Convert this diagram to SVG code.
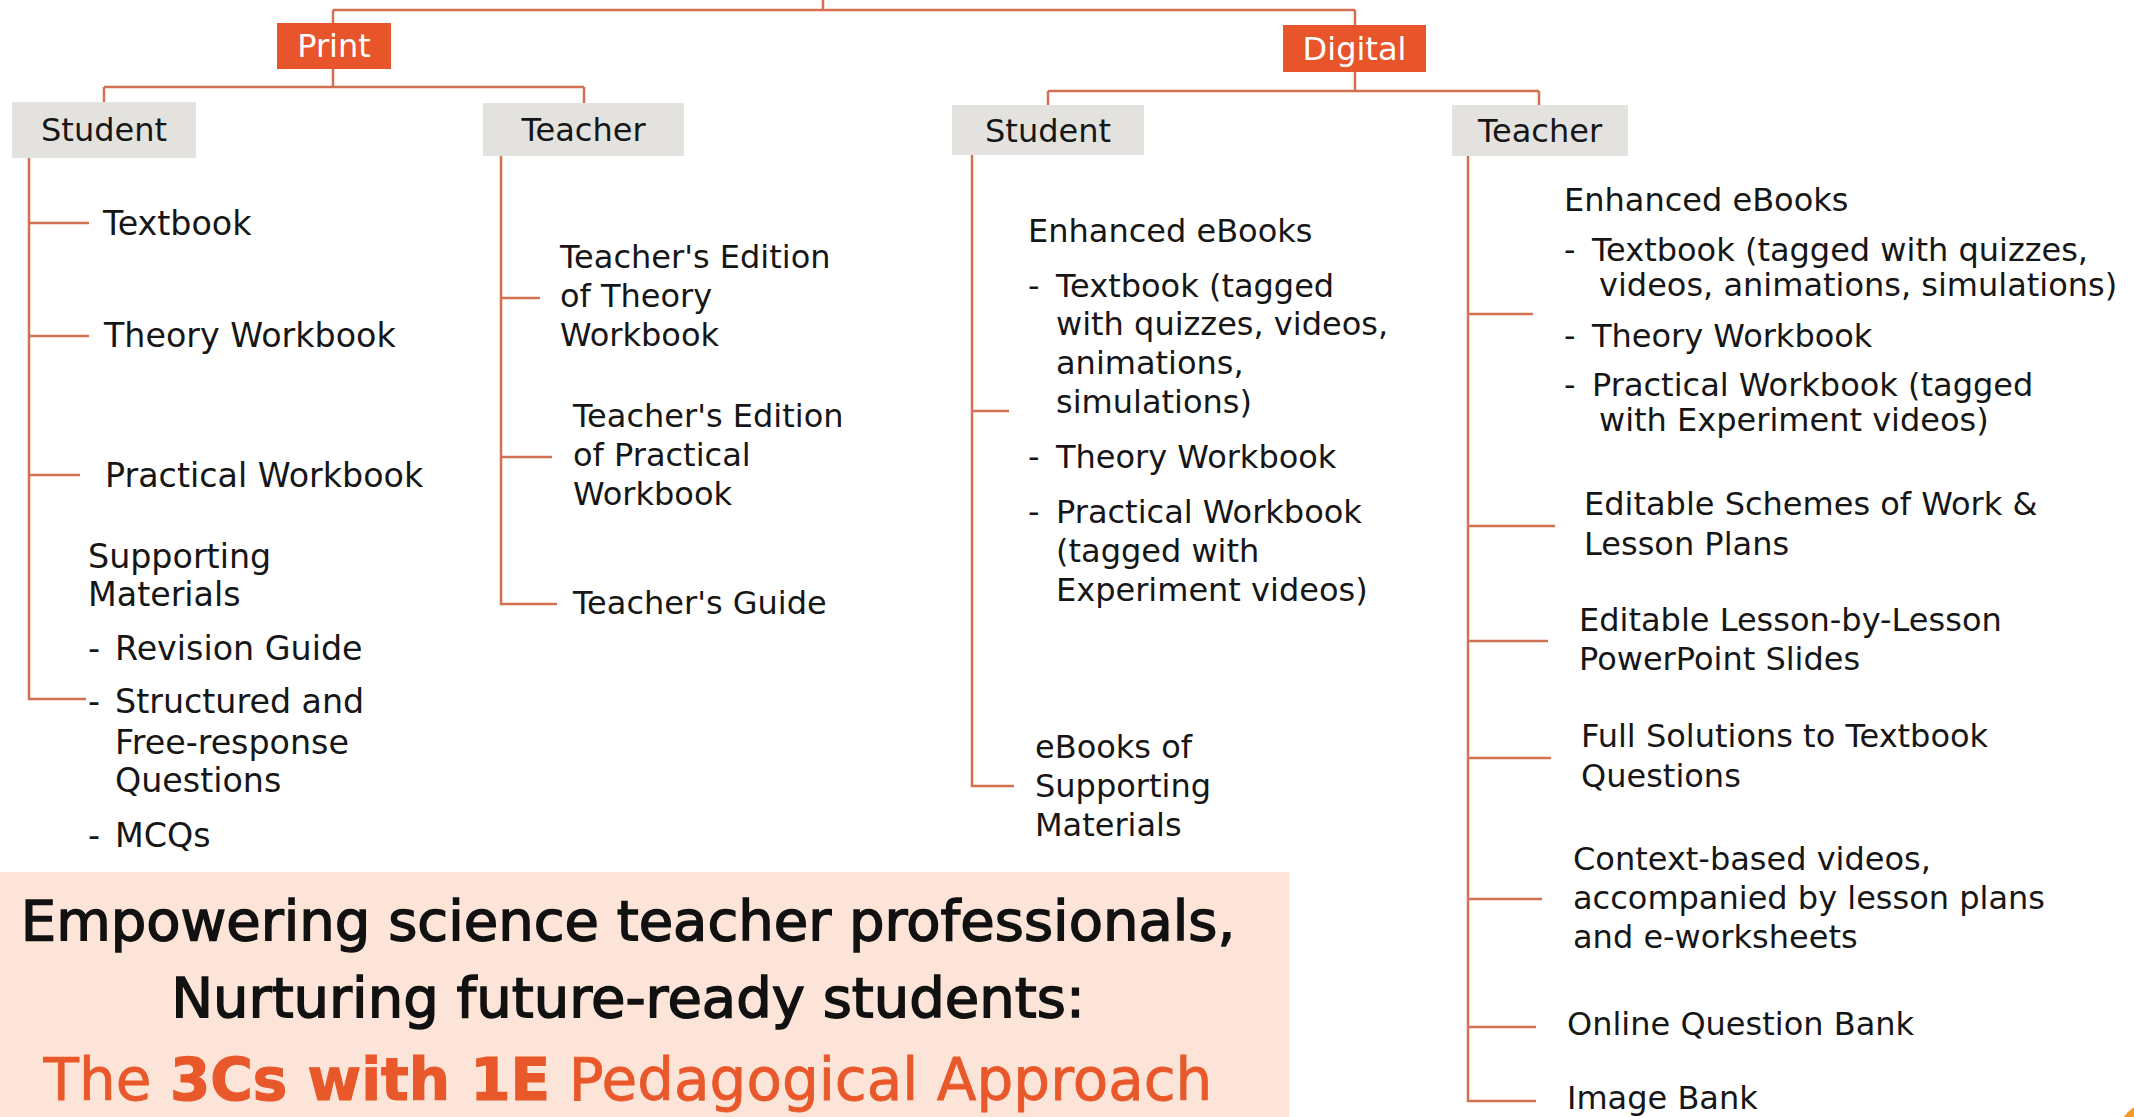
<svg xmlns="http://www.w3.org/2000/svg" width="2134" height="1117" viewBox="0 0 2134 1117">
  <style>
    .conn { fill: none; stroke: #D2704F; stroke-width: 2.5; }
    .t { font-family: "DejaVu Sans", "Liberation Sans", sans-serif; font-size: 32px; fill: #161616; }
    .big .t { font-size: 33.3px; }
    .lbl { font-family: "DejaVu Sans", "Liberation Sans", sans-serif; font-size: 32px; text-anchor: middle; }
    .media rect { fill: #E8552B; }
    .media text { fill: #FFFFFF; }
    .cat rect { fill: #E4E2DE; }
    .cat text { fill: #161616; }
    .head { font-family: "DejaVu Sans", "Liberation Sans", sans-serif; font-size: 56px; text-anchor: middle; fill: #111111; stroke: #111111; stroke-width: 1.5; }
    .sub { font-family: "DejaVu Sans", "Liberation Sans", sans-serif; font-size: 58px; text-anchor: middle; fill: #E8582A; stroke: #E8582A; stroke-width: 0.8; }
    .strong { font-weight: bold; stroke-width: 1.2; }
  </style>

  <rect width="2134" height="1117" fill="#FFFFFF"/>

  <!-- connectors -->
  <g id="connectors">
    <path class="conn" d="M823,0 V10 M333,10 H1355 M333,10 V23 M1355,10 V25"/>
    <path class="conn" d="M333,69 V87 M104,87 H584 M104,87 V102 M584,87 V103"/>
    <path class="conn" d="M1355,72 V91 M1048,91 H1539 M1048,91 V105 M1539,91 V105"/>
    <path class="conn" d="M29,158 V699 H86 M29,223 H89 M29,336 H89 M29,475 H80"/>
    <path class="conn" d="M501,156 V604 H557 M501,298 H540 M501,457 H552"/>
    <path class="conn" d="M972,155 V786 H1014 M972,411 H1009"/>
    <path class="conn" d="M1468,156 V1101 H1536 M1468,314 H1533 M1468,526 H1555 M1468,641 H1548 M1468,758 H1551 M1468,899 H1542 M1468,1027 H1536"/>
  </g>

  <!-- media level -->
  <g id="print" class="media">
    <rect x="277" y="23" width="114" height="46"/>
    <text class="lbl" x="334" y="57">Print</text>
  </g>
  <g id="digital" class="media">
    <rect x="1283" y="25" width="143" height="47"/>
    <text class="lbl" x="1354.5" y="60">Digital</text>
  </g>

  <!-- audience level -->
  <g id="print-student" class="cat">
    <rect x="12" y="102" width="184" height="56"/>
    <text class="lbl" x="104" y="141">Student</text>
  </g>
  <g id="print-teacher" class="cat">
    <rect x="483" y="103" width="201" height="53"/>
    <text class="lbl" x="583.5" y="141">Teacher</text>
  </g>
  <g id="digital-student" class="cat">
    <rect x="952" y="105" width="192" height="50"/>
    <text class="lbl" x="1048" y="141.5">Student</text>
  </g>
  <g id="digital-teacher" class="cat">
    <rect x="1452" y="105" width="176" height="51"/>
    <text class="lbl" x="1540" y="142">Teacher</text>
  </g>

  <!-- print / student items -->
  <g id="ps-textbook" class="big"><text class="t" x="103" y="235">Textbook</text></g>
  <g id="ps-theory" class="big"><text class="t" x="104" y="347">Theory Workbook</text></g>
  <g id="ps-practical" class="big"><text class="t" x="105" y="487">Practical Workbook</text></g>
  <g id="ps-supporting" class="big">
    <text class="t" x="88" y="568">Supporting</text>
    <text class="t" x="88" y="606">Materials</text>
    <text class="t" y="660"><tspan x="88">-</tspan><tspan x="115">Revision Guide</tspan></text>
    <text class="t" y="713"><tspan x="88">-</tspan><tspan x="115">Structured and</tspan></text>
    <text class="t" x="115" y="754">Free-response</text>
    <text class="t" x="115" y="792">Questions</text>
    <text class="t" y="847"><tspan x="88">-</tspan><tspan x="115">MCQs</tspan></text>
  </g>

  <!-- print / teacher items -->
  <g id="pt-theory">
    <text class="t" x="560" y="268">Teacher's Edition</text>
    <text class="t" x="560" y="307">of Theory</text>
    <text class="t" x="560" y="346">Workbook</text>
  </g>
  <g id="pt-practical">
    <text class="t" x="573" y="427">Teacher's Edition</text>
    <text class="t" x="573" y="466">of Practical</text>
    <text class="t" x="573" y="505">Workbook</text>
  </g>
  <g id="pt-guide"><text class="t" x="573" y="614">Teacher's Guide</text></g>

  <!-- digital / student items -->
  <g id="ds-ebooks">
    <text class="t" x="1028" y="242">Enhanced eBooks</text>
    <text class="t" y="297"><tspan x="1028">-</tspan><tspan x="1056">Textbook (tagged</tspan></text>
    <text class="t" x="1056" y="335">with quizzes, videos,</text>
    <text class="t" x="1056" y="374">animations,</text>
    <text class="t" x="1056" y="413">simulations)</text>
    <text class="t" y="468"><tspan x="1028">-</tspan><tspan x="1056">Theory Workbook</tspan></text>
    <text class="t" y="523"><tspan x="1028">-</tspan><tspan x="1056">Practical Workbook</tspan></text>
    <text class="t" x="1056" y="562">(tagged with</text>
    <text class="t" x="1056" y="601">Experiment videos)</text>
  </g>
  <g id="ds-supporting">
    <text class="t" x="1035" y="758">eBooks of</text>
    <text class="t" x="1035" y="797">Supporting</text>
    <text class="t" x="1035" y="836">Materials</text>
  </g>

  <!-- digital / teacher items -->
  <g id="dt-ebooks">
    <text class="t" x="1564" y="211">Enhanced eBooks</text>
    <text class="t" y="261"><tspan x="1564">-</tspan><tspan x="1592">Textbook (tagged with quizzes,</tspan></text>
    <text class="t" x="1599" y="296">videos, animations, simulations)</text>
    <text class="t" y="347"><tspan x="1564">-</tspan><tspan x="1592">Theory Workbook</tspan></text>
    <text class="t" y="396"><tspan x="1564">-</tspan><tspan x="1592">Practical Workbook (tagged</tspan></text>
    <text class="t" x="1599" y="431">with Experiment videos)</text>
  </g>
  <g id="dt-schemes">
    <text class="t" x="1584" y="515">Editable Schemes of Work &amp;</text>
    <text class="t" x="1584" y="555">Lesson Plans</text>
  </g>
  <g id="dt-slides">
    <text class="t" x="1579" y="631">Editable Lesson-by-Lesson</text>
    <text class="t" x="1579" y="670">PowerPoint Slides</text>
  </g>
  <g id="dt-solutions">
    <text class="t" x="1581" y="747">Full Solutions to Textbook</text>
    <text class="t" x="1581" y="787">Questions</text>
  </g>
  <g id="dt-videos">
    <text class="t" x="1573" y="870">Context-based videos,</text>
    <text class="t" x="1573" y="909">accompanied by lesson plans</text>
    <text class="t" x="1573" y="948">and e-worksheets</text>
  </g>
  <g id="dt-questionbank"><text class="t" x="1567" y="1035">Online Question Bank</text></g>
  <g id="dt-imagebank"><text class="t" x="1567" y="1109">Image Bank</text></g>

  <!-- title banner -->
  <g id="banner">
    <rect x="0" y="872" width="1289" height="245" fill="#FCE5D8"/>
    <text class="head" x="628" y="940">Empowering science teacher professionals,</text>
    <text class="head" x="628" y="1017">Nurturing future-ready students:</text>
    <text class="sub" x="628" y="1100">The <tspan class="strong">3Cs with 1E</tspan> Pedagogical Approach</text>
  </g>

  <!-- corner accent -->
  <circle cx="2152" cy="1136" r="34" fill="#F39A2B"/>
</svg>
